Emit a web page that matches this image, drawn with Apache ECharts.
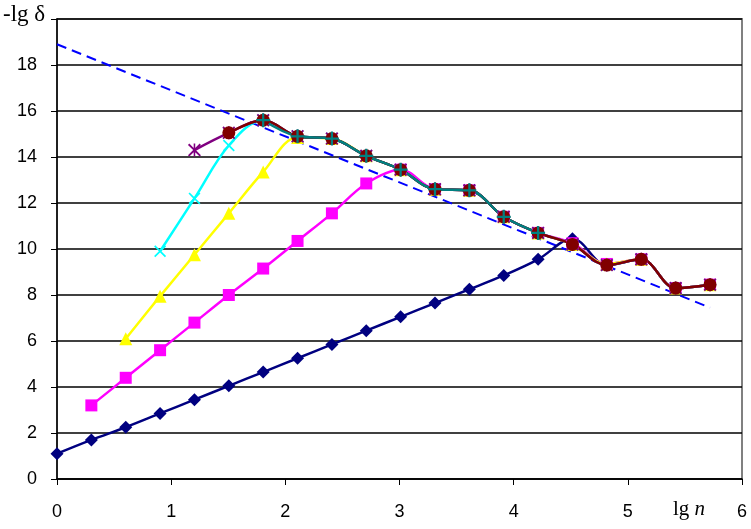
<!DOCTYPE html>
<html><head><meta charset="utf-8">
<script src="https://cdn.jsdelivr.net/npm/echarts@6/dist/echarts.min.js"></script>
<style>html,body{margin:0;padding:0;background:#fff}#c{width:751px;height:529px}</style>
</head><body><div id="c"></div>
<script>
const xs = [0, 0.301, 0.602, 0.903, 1.204, 1.505, 1.806, 2.107, 2.408, 2.709, 3.010, 3.311, 3.612, 3.913, 4.214, 4.515, 4.816, 5.118, 5.419, 5.720];
const navy    = [1.1, 1.7, 2.25, 2.85, 3.45, 4.05, 4.65, 5.25, 5.85, 6.45, 7.05, 7.65, 8.25, 8.85, 9.55, 10.45, 9.3, 9.55, 8.3, 8.45];
const magenta = [null, 3.2, 4.4, 5.6, 6.8, 8.0, 9.15, 10.35, 11.55, 12.85, 13.45, 12.6, 12.55, 11.4, 10.7, 10.25, 9.35, 9.55, 8.3, 8.45];
const yellow  = [null, null, 6.1, 7.95, 9.75, 11.55, 13.35, 14.85, 14.8, 14.05, 13.45, 12.6, 12.55, 11.4, 10.7, 10.2, 9.35, 9.55, 8.3, 8.45];
const cyan    = [null, null, null, 9.9, 12.2, 14.5, 15.6, 14.9, 14.8, 14.05, 13.45, 12.6, 12.55, 11.4, 10.7, 10.2, 9.3, 9.55, 8.3, 8.45];
const purple  = [null, null, null, null, 14.3, 15.05, 15.6, 14.9, 14.8, 14.05, 13.45, 12.6, 12.55, 11.4, 10.7, 10.2, 9.3, 9.55, 8.3, 8.45];
const maroon  = [null, null, null, null, null, 15.05, 15.6, 14.9, 14.8, 14.05, 13.45, 12.6, 12.55, 11.4, 10.7, 10.2, 9.3, 9.55, 8.3, 8.45];
const teal    = [null, null, null, null, null, null, 15.6, 14.9, 14.8, 14.05, 13.45, 12.6, 12.55, 11.4, 10.7];
const trendX = [0, 5.72];
const trendY = [18.9, 7.45];
const xTicks = ['0','1','2','3','4','5','6'];
const yTicks = ['0','2','4','6','8','10','12','14','16','18'];

const X_PATH = 'path://M0,1 L1,0 L5,4 L9,0 L10,1 L6,5 L10,9 L9,10 L5,6 L1,10 L0,9 L4,5 Z';
const AST_PATH = 'path://M0,1 L1,0 L5,4 L9,0 L10,1 L6,5 L10,9 L9,10 L5,6 L1,10 L0,9 L4,5 Z M4.4,0 L5.6,0 L5.6,10 L4.4,10 Z';
const PLUS_PATH = 'path://M4.2,0 L5.8,0 L5.8,4.2 L10,4.2 L10,5.8 L5.8,5.8 L5.8,10 L4.2,10 L4.2,5.8 L0,5.8 L0,4.2 L4.2,4.2 Z';
const SANS = '"Liberation Sans", Arial, sans-serif';

function pairs(vals){ const out=[]; vals.forEach((v,i)=>{ if(v!==null) out.push([xs[i], v]); }); return out; }
function mk(vals, color, symbol, size){
  return { type:'line', data:pairs(vals), smooth:0.35, symbol:symbol, symbolSize:size,
    lineStyle:{color:color,width:2.5}, itemStyle:{color:color, borderWidth:0}, showSymbol:true, animation:false, z:2 };
}
const chart = echarts.init(document.getElementById('c'), null, {renderer:'canvas'});
chart.setOption({
  animation:false,
  grid:{left:57,right:9,top:19,bottom:50,show:true,borderColor:'#808080',borderWidth:2,backgroundColor:'#fff'},
  xAxis:{type:'value',min:0,max:6,interval:1,
    axisLine:{show:true,onZero:false,lineStyle:{color:'#000',width:1.5}},
    axisTick:{show:true,inside:false,length:6,lineStyle:{color:'#000'}},
    axisLabel:{color:'#000',fontFamily:SANS,fontSize:18,margin:24,formatter:(v)=>xTicks[Math.round(v)]},
    splitLine:{show:false}},
  yAxis:{type:'value',min:0,max:20,interval:2,
    axisLine:{show:true,lineStyle:{color:'#000',width:1.5}},
    axisTick:{show:true,inside:false,length:6,lineStyle:{color:'#000'}},
    axisLabel:{color:'#000',fontFamily:SANS,fontSize:18,margin:20,formatter:(v)=>{const i=Math.round(v/2);return i<yTicks.length?yTicks[i]:'';}},
    splitLine:{show:true,lineStyle:{color:'#000',width:1.5}}},
  graphic:[
    {type:'text',left:3,top:3,style:{text:'-lg δ',font:'23px "Liberation Serif", "Times New Roman", serif',fill:'#000'}},
    {type:'text',left:673,top:499,style:{rich:{a:{font:'21px "Liberation Serif", serif',fill:'#000'},b:{font:'italic 21px "Liberation Serif", serif',fill:'#000'}},text:'{a|lg }{b|n}'}}
  ],
  series:[
    mk(navy,'#000080','diamond',13),
    mk(magenta,'#FF00FF','rect',12),
    mk(yellow,'#FFFF00','triangle',13),
    mk(cyan,'#00FFFF',X_PATH,12),
    mk(purple,'#800080',AST_PATH,13),
    mk(maroon,'#800000','circle',13),
    mk(teal,'#008080',PLUS_PATH,14),
    {type:'line',data:trendX.map((x,i)=>[x,trendY[i]]),symbol:'none',lineStyle:{color:'#0000FF',width:2,type:[10,6]},z:1,animation:false}
  ]
});
</script></body></html>
